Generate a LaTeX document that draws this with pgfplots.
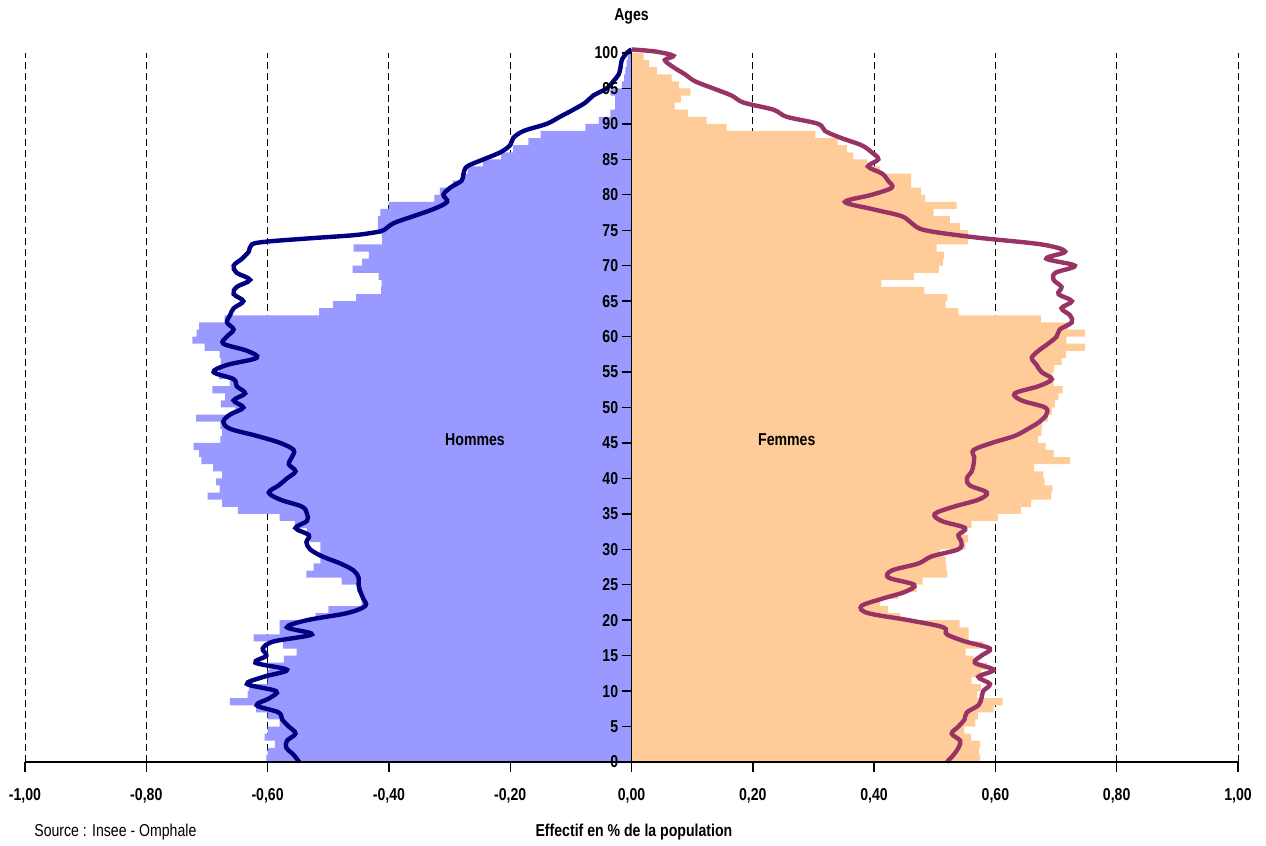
\documentclass[border=0pt]{standalone}
\usepackage{fontspec}
\setmainfont{Liberation Sans}[FakeStretch=0.82]
\usepackage{pgfplots}
\pgfplotsset{compat=1.18}

\definecolor{hommes}{HTML}{9999FF}
\definecolor{femmes}{HTML}{FFCC99}
\definecolor{lignehom}{HTML}{000080}
\definecolor{lignefem}{HTML}{993366}

\newcommand{\lab}{\fontsize{8.6}{10}\selectfont}

\begin{document}
\begin{tikzpicture}
\begin{axis}[
  at={(0,0)}, anchor=south west,
  scale only axis,
  width=606.5pt, height=354.5pt,
  xmin=-1, xmax=1, ymin=0, ymax=100,
  enlargelimits=false,
  clip=false,
  axis on top,
  axis x line=bottom, axis y line=center,
  axis line style={-, black, line width=0.7pt},
  hide obscured x ticks=false, hide obscured y ticks=false,
  xtick={-1,-0.8,-0.6,-0.4,-0.2,0,0.2,0.4,0.6,0.8,1},
  xticklabels={{-1,00},{-0,80},{-0,60},{-0,40},{-0,20},{0,00},{0,20},{0,40},{0,60},{0,80},{1,00}},
  ytick={0,5,...,100},
  /pgf/number format/assume math mode=true,
  ticklabel style={font=\lab\bfseries},
  xtick align=outside,
  ytick align=center,
  major tick length=5pt,
  tick style={black, line width=0.7pt},
  xticklabel style={anchor=north, yshift=-4.5pt},
  yticklabel style={anchor=east, xshift=0pt, inner sep=1.5pt},
  xbar, bar width=1, bar shift=0pt,
]

% grille verticale en tirets
\foreach \g in {-1,-0.8,-0.6,-0.4,-0.2,0.2,0.4,0.6,0.8,1} {
  \edef\tmp{\noexpand\addplot[sharp plot, black, line width=0.5pt, dash pattern=on 3.5pt off 2pt, forget plot] coordinates {(\g,0) (\g,100)};}
  \tmp
}

% barres hommes
\addplot[xbar, fill=hommes, draw=none, forget plot] coordinates {
(-0.602,0.5) (-0.600,1.5) (-0.588,2.5) (-0.605,3.5) (-0.600,4.5)
(-0.580,5.5) (-0.600,6.5) (-0.619,7.5) (-0.662,8.5) (-0.633,9.5)
(-0.631,10.5) (-0.600,11.5) (-0.600,12.5) (-0.597,13.5) (-0.573,14.5)
(-0.552,15.5) (-0.575,16.5) (-0.623,17.5) (-0.580,18.5) (-0.580,19.5)
(-0.521,20.5) (-0.500,21.5) (-0.445,22.5) (-0.443,23.5) (-0.453,24.5)
(-0.478,25.5) (-0.536,26.5) (-0.524,27.5) (-0.513,28.5) (-0.513,29.5)
(-0.513,30.5) (-0.530,31.5) (-0.535,32.5) (-0.555,33.5) (-0.580,34.5)
(-0.649,35.5) (-0.675,36.5) (-0.699,37.5) (-0.679,38.5) (-0.685,39.5)
(-0.675,40.5) (-0.690,41.5) (-0.709,42.5) (-0.713,43.5) (-0.722,44.5)
(-0.678,45.5) (-0.675,46.5) (-0.678,47.5) (-0.718,48.5) (-0.653,49.5)
(-0.677,50.5) (-0.670,51.5) (-0.691,52.5) (-0.662,53.5) (-0.680,54.5)
(-0.680,55.5) (-0.677,56.5) (-0.679,57.5) (-0.704,58.5) (-0.724,59.5)
(-0.717,60.5) (-0.713,61.5) (-0.671,62.5) (-0.515,63.5) (-0.492,64.5)
(-0.454,65.5) (-0.413,66.5) (-0.412,67.5) (-0.417,68.5) (-0.460,69.5)
(-0.444,70.5) (-0.433,71.5) (-0.458,72.5) (-0.411,73.5) (-0.412,74.5)
(-0.418,75.5) (-0.418,76.5) (-0.414,77.5) (-0.400,78.5) (-0.325,79.5)
(-0.316,80.5) (-0.295,81.5) (-0.281,82.5) (-0.270,83.5) (-0.245,84.5)
(-0.215,85.5) (-0.195,86.5) (-0.170,87.5) (-0.150,88.5) (-0.076,89.5)
(-0.054,90.5) (-0.035,91.5) (-0.027,92.5) (-0.027,93.5) (-0.035,94.5)
(-0.016,95.5) (-0.012,96.5) (-0.010,97.5) (-0.008,98.5) (-0.006,99.5)
};

% barres femmes
\addplot[xbar, fill=femmes, draw=none, forget plot] coordinates {
(0.575,0.5) (0.573,1.5) (0.575,2.5) (0.560,3.5) (0.549,4.5)
(0.567,5.5) (0.571,6.5) (0.597,7.5) (0.612,8.5) (0.570,9.5)
(0.576,10.5) (0.561,11.5) (0.576,12.5) (0.586,13.5) (0.564,14.5)
(0.551,15.5) (0.580,16.5) (0.556,17.5) (0.556,18.5) (0.541,19.5)
(0.443,20.5) (0.423,21.5) (0.410,22.5) (0.440,23.5) (0.470,24.5)
(0.480,25.5) (0.521,26.5) (0.519,27.5) (0.518,28.5) (0.509,29.5)
(0.551,30.5) (0.555,31.5) (0.549,32.5) (0.561,33.5) (0.604,34.5)
(0.642,35.5) (0.659,36.5) (0.692,37.5) (0.694,38.5) (0.681,39.5)
(0.679,40.5) (0.664,41.5) (0.723,42.5) (0.696,43.5) (0.683,44.5)
(0.670,45.5) (0.676,46.5) (0.677,47.5) (0.687,48.5) (0.693,49.5)
(0.698,50.5) (0.704,51.5) (0.711,52.5) (0.696,53.5) (0.694,54.5)
(0.697,55.5) (0.709,56.5) (0.716,57.5) (0.748,58.5) (0.717,59.5)
(0.748,60.5) (0.720,61.5) (0.675,62.5) (0.539,63.5) (0.518,64.5)
(0.521,65.5) (0.483,66.5) (0.412,67.5) (0.466,68.5) (0.507,69.5)
(0.514,70.5) (0.515,71.5) (0.503,72.5) (0.555,73.5) (0.555,74.5)
(0.542,75.5) (0.525,76.5) (0.498,77.5) (0.536,78.5) (0.484,79.5)
(0.477,80.5) (0.461,81.5) (0.461,82.5) (0.410,83.5) (0.388,84.5)
(0.366,85.5) (0.355,86.5) (0.340,87.5) (0.303,88.5) (0.157,89.5)
(0.124,90.5) (0.093,91.5) (0.071,92.5) (0.082,93.5) (0.097,94.5)
(0.078,95.5) (0.066,96.5) (0.042,97.5) (0.029,98.5) (0.020,99.5)
};

% ligne hommes
\addplot[sharp plot, smooth, tension=0.55, lignehom, line width=2.2pt] coordinates {
(-0.548,0) (-0.557,1) (-0.569,2) (-0.568,3) (-0.554,4) (-0.565,5)
(-0.576,6) (-0.582,7) (-0.618,8) (-0.597,9) (-0.586,10) (-0.634,11)
(-0.607,12) (-0.568,13) (-0.620,14) (-0.602,15) (-0.608,16) (-0.590,17)
(-0.527,18) (-0.568,19) (-0.535,20) (-0.469,21) (-0.439,22) (-0.442,23)
(-0.447,24) (-0.450,25) (-0.450,26) (-0.458,27) (-0.480,28) (-0.510,29)
(-0.530,30) (-0.536,31) (-0.532,32) (-0.554,33) (-0.535,34) (-0.535,35)
(-0.543,36) (-0.579,37) (-0.598,38) (-0.582,39) (-0.568,40) (-0.554,41)
(-0.565,42) (-0.560,43) (-0.557,44) (-0.579,45) (-0.618,46) (-0.662,47)
(-0.673,48) (-0.662,49) (-0.640,50) (-0.656,51) (-0.637,52) (-0.651,53)
(-0.656,54) (-0.689,55) (-0.667,56) (-0.618,57) (-0.634,58) (-0.673,59)
(-0.667,60) (-0.656,61) (-0.667,62) (-0.662,63) (-0.656,64) (-0.640,65)
(-0.656,66) (-0.651,67) (-0.629,68) (-0.651,69) (-0.656,70) (-0.642,71)
(-0.631,72) (-0.626,73) (-0.601,73.4) (-0.524,73.9) (-0.458,74.3) (-0.423,74.7)
(-0.409,75) (-0.392,76) (-0.359,77) (-0.326,78) (-0.304,79) (-0.310,80)
(-0.299,81) (-0.280,82) (-0.277,83) (-0.271,84) (-0.244,85) (-0.216,86)
(-0.200,87) (-0.195,88) (-0.178,89) (-0.140,90) (-0.118,91) (-0.096,92)
(-0.076,93) (-0.063,94) (-0.041,95) (-0.030,96) (-0.021,97) (-0.018,98)
(-0.016,99) (-0.008,100) (0,100.5)
};

% ligne femmes
\addplot[sharp plot, smooth, tension=0.55, lignefem, line width=2.2pt] coordinates {
(0.520,0) (0.531,1) (0.539,2) (0.542,3) (0.528,4) (0.539,5)
(0.549,6) (0.553,7) (0.572,8) (0.577,9) (0.580,10) (0.591,11)
(0.572,12) (0.597,13) (0.566,14) (0.577,15) (0.591,16) (0.550,17)
(0.520,18) (0.514,19) (0.457,20) (0.390,21) (0.379,22) (0.412,23)
(0.451,24) (0.466,25) (0.424,26) (0.429,27) (0.473,28) (0.495,29)
(0.539,30) (0.544,31) (0.539,32) (0.550,33) (0.511,34) (0.500,35)
(0.531,36) (0.572,37) (0.586,38) (0.558,39) (0.553,40) (0.561,41)
(0.564,42) (0.565,43) (0.564,44) (0.594,45) (0.632,46) (0.654,47)
(0.673,48) (0.684,49) (0.682,50) (0.643,51) (0.632,52) (0.671,53)
(0.693,54) (0.676,55) (0.668,56) (0.660,57) (0.671,58) (0.687,59)
(0.701,60) (0.706,61) (0.726,62) (0.723,63) (0.709,64) (0.726,65)
(0.704,66) (0.709,67) (0.696,68) (0.699,69) (0.731,70) (0.684,71)
(0.715,72) (0.676,73) (0.566,74) (0.484,75) (0.462,76) (0.445,77)
(0.396,78) (0.352,79) (0.396,80) (0.429,81) (0.423,82) (0.413,83)
(0.390,84) (0.407,85) (0.396,86) (0.379,87) (0.346,88) (0.319,89)
(0.308,90) (0.256,91) (0.234,92) (0.185,93) (0.165,94) (0.135,95)
(0.105,96) (0.088,97) (0.069,98) (0.055,99) (0.069,99.6) (0.040,100.2) (0,100.5)
};

\node[font=\lab\bfseries] at (axis cs:0,105.2) {Ages};
\node[font=\lab\bfseries] at (axis cs:-0.258,45.4) {Hommes};
\node[font=\lab\bfseries] at (axis cs:0.256,45.4) {Femmes};
\node[font=\lab\bfseries] at (axis cs:0.004,-9.9) {Effectif en \% de la population};
\node[font=\lab] at (axis cs:-0.851,-9.9) {Source : Insee - Omphale};
\end{axis}
\pgfresetboundingbox
\path (-12.5pt,-42pt) rectangle (620.5pt,381pt);
\end{tikzpicture}
\end{document}
